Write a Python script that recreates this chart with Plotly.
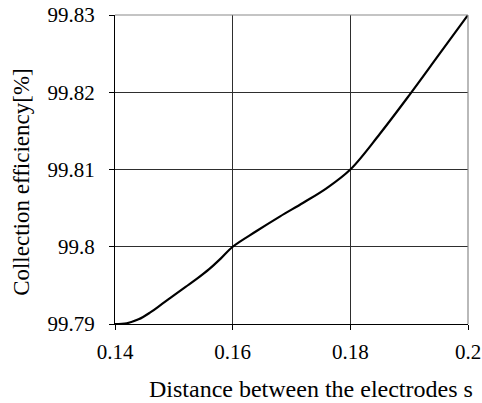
import plotly.graph_objects as go

# Electrode spacing s and the resulting collection efficiency
spacing = [0.14, 0.142, 0.144, 0.146, 0.148, 0.15, 0.152, 0.154, 0.156, 0.158, 0.16,
           0.164, 0.168, 0.172, 0.176, 0.18, 0.185, 0.19, 0.195, 0.2]
efficiency = [99.7900, 99.7901, 99.7906, 99.7915, 99.7926, 99.7937, 99.7948, 99.7959,
              99.7971, 99.7985, 99.8000, 99.8020, 99.8039, 99.8057, 99.8076, 99.8100,
              99.8146, 99.8196, 99.8248, 99.8300]

x_ticks = [0.14, 0.16, 0.18, 0.2]
x_tick_text = ["0.14", "0.16", "0.18", "0.2"]
y_ticks = [99.79, 99.80, 99.81, 99.82, 99.83]
y_tick_text = ["99.79", "99.8", "99.81", "99.82", "99.83"]

FONT = "Liberation Serif"

fig = go.Figure()
fig.add_trace(go.Scatter(
    x=spacing, y=efficiency, mode="lines",
    line=dict(color="black", width=2.2, shape="spline", smoothing=1.0),
    showlegend=False, hoverinfo="skip",
))

axis_common = dict(
    showgrid=True, gridcolor="#2e2e2e", gridwidth=1,
    showline=True, linecolor="black", linewidth=1.2,
    ticks="outside", ticklen=5, tickcolor="black",
    zeroline=False, automargin=False,
    tickfont=dict(family=FONT, size=21, color="black"),
)

fig.update_xaxes(range=[0.14, 0.2], tickvals=x_ticks, ticktext=x_tick_text,
                 ticklabelstandoff=4, **axis_common)
fig.update_yaxes(range=[99.79, 99.83], tickvals=y_ticks, ticktext=y_tick_text,
                 ticklabelstandoff=10, **axis_common)

# lighter frame on the top and right edges
fig.add_shape(type="line", xref="x domain", yref="y domain", x0=0, x1=1, y0=1, y1=1,
              line=dict(color="#8a8a8a", width=1.2), layer="above")
fig.add_shape(type="line", xref="x domain", yref="y domain", x0=1, x1=1, y0=0, y1=1,
              line=dict(color="#8a8a8a", width=1.2), layer="above")

fig.add_annotation(text="Distance between the electrodes s", xref="paper", yref="paper",
                   x=0.555, y=0, yshift=-65, xanchor="center", yanchor="middle",
                   showarrow=False, font=dict(family=FONT, size=24, color="black"))
fig.add_annotation(text="Collection efficiency[%]", xref="paper", yref="paper",
                   x=0, xshift=-93, y=0.46, textangle=-90, xanchor="center", yanchor="middle",
                   showarrow=False, font=dict(family=FONT, size=23, color="black"))

fig.update_layout(
    width=482, height=403,
    margin=dict(l=115, r=14, t=15, b=79),
    paper_bgcolor="white", plot_bgcolor="white",
    font=dict(family=FONT, color="black"),
)

fig.write_html("out.html")
